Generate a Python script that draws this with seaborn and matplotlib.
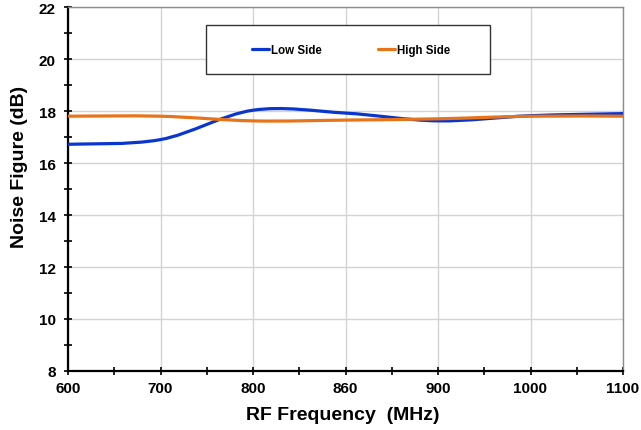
import pandas as pd
import seaborn as sns
import matplotlib.pyplot as plt
import numpy as np
from matplotlib.path import Path
from matplotlib.patches import PathPatch, Rectangle
from matplotlib.lines import Line2D
from matplotlib.ticker import MultipleLocator, FixedLocator

# ==========================================
# DATA
# ==========================================

FREQ_LABELS = ["600", "700", "800", "860", "900", "1000", "1100"]
LOW_SIDE = [16.72, 16.90, 18.03, 17.92, 17.62, 17.82, 17.90]
HIGH_SIDE = [17.80, 17.80, 17.62, 17.65, 17.70, 17.80, 17.80]

SERIES_NAMES = ["Low Side", "High Side"]
SERIES_COLORS = ["#0A36D0", "#E8741A"]

OUTPUT_IMAGE = "out.png"

# ==========================================


def smooth_path(xs, ys):
    """Excel style smoothed line: cubic Bezier segments through every point."""
    pts = np.column_stack([xs, ys])
    n = len(pts)
    verts = [pts[0]]
    codes = [Path.MOVETO]
    for i in range(n - 1):
        p0 = pts[max(i - 1, 0)]
        p1 = pts[i]
        p2 = pts[i + 1]
        p3 = pts[min(i + 2, n - 1)]
        c1 = p1 + (p2 - p0) / 6.0
        c2 = p2 - (p3 - p1) / 6.0
        verts += [c1, c2, p2]
        codes += [Path.CURVE4] * 3
    return Path(verts, codes)


def make_plot():
    df = pd.DataFrame({
        "idx": list(range(len(FREQ_LABELS))) * 2,
        "nf": LOW_SIDE + HIGH_SIDE,
        "Side": [SERIES_NAMES[0]] * len(LOW_SIDE) + [SERIES_NAMES[1]] * len(HIGH_SIDE),
    })

    sns.set_theme(style="white")
    plt.rcParams["font.family"] = ["Liberation Sans", "DejaVu Sans"]
    plt.rcParams["font.weight"] = "bold"
    plt.rcParams["text.color"] = "black"
    plt.rcParams["axes.labelcolor"] = "black"
    plt.rcParams["xtick.color"] = "black"
    plt.rcParams["ytick.color"] = "black"

    fig = plt.figure(figsize=(6.41, 4.31), dpi=100)
    ax = fig.add_axes([68 / 641, 1 - 372 / 431, 555 / 641, 364 / 431])

    sns.lineplot(data=df, x="idx", y="nf", hue="Side", sort=False,
                 palette=dict(zip(SERIES_NAMES, SERIES_COLORS)),
                 linewidth=2.3, legend=False, ax=ax)

    # swap the straight segments for smoothed curves (same data, same axes)
    for line in list(ax.lines):
        xs, ys = line.get_xdata(), line.get_ydata()
        patch = PathPatch(smooth_path(np.asarray(xs, float), np.asarray(ys, float)),
                          fill=False, edgecolor=line.get_color(),
                          linewidth=2.3, capstyle="round", zorder=3)
        ax.add_patch(patch)
        line.remove()

    ax.set_xlim(0, len(FREQ_LABELS) - 1)
    ax.set_ylim(8, 22)

    ax.xaxis.set_major_locator(FixedLocator(range(len(FREQ_LABELS))))
    ax.set_xticklabels(FREQ_LABELS)
    ax.xaxis.set_minor_locator(FixedLocator(np.arange(0.5, len(FREQ_LABELS) - 1, 1.0)))
    ax.yaxis.set_major_locator(MultipleLocator(2))
    ax.yaxis.set_minor_locator(MultipleLocator(1))

    ax.grid(True, which="major", color="#D4D4D4", linewidth=1.0)
    ax.set_axisbelow(True)

    ax.tick_params(which="both", direction="inout", length=6, width=1.2,
                   color="black", labelsize=11, labelcolor="black",
                   bottom=True, left=True)
    ax.tick_params(axis="x", pad=4)
    ax.tick_params(axis="y", pad=6)

    for side in ["left", "bottom"]:
        ax.spines[side].set_color("black")
        ax.spines[side].set_linewidth(1.6)
    for side in ["top", "right"]:
        ax.spines[side].set_color("#8C8C8C")
        ax.spines[side].set_linewidth(1.0)

    ax.set_xlabel("RF Frequency  (MHz)", fontsize=14, fontweight="bold", color="black")
    ax.set_ylabel("Noise Figure (dB)", fontsize=14, fontweight="bold", color="black")
    ax.xaxis.set_label_coords((343 - 68) / 555, (372 - 407) / 364)
    ax.yaxis.set_label_coords((28 - 68) / 555, (372 - 167) / 364)

    # legend box like the Excel original
    fig.patches.append(Rectangle((206 / 641, 1 - 75 / 431), 284 / 641, 49 / 431,
                                 transform=fig.transFigure, facecolor="white",
                                 edgecolor="#333333", linewidth=1.0, zorder=5))
    handles = [Line2D([0], [0], color=c, linewidth=2.3) for c in SERIES_COLORS]
    leg = fig.legend(handles, SERIES_NAMES, loc="center",
                     bbox_to_anchor=(351 / 641, 1 - 51 / 431), ncol=2,
                     frameon=False, handlelength=1.5,
                     handletextpad=0.15, columnspacing=4.9,
                     prop={"weight": "bold", "size": 8.3})
    for t in leg.get_texts():
        t.set_color("black")
    leg.set_zorder(6)

    fig.savefig(OUTPUT_IMAGE, dpi=100)


if __name__ == "__main__":
    make_plot()
